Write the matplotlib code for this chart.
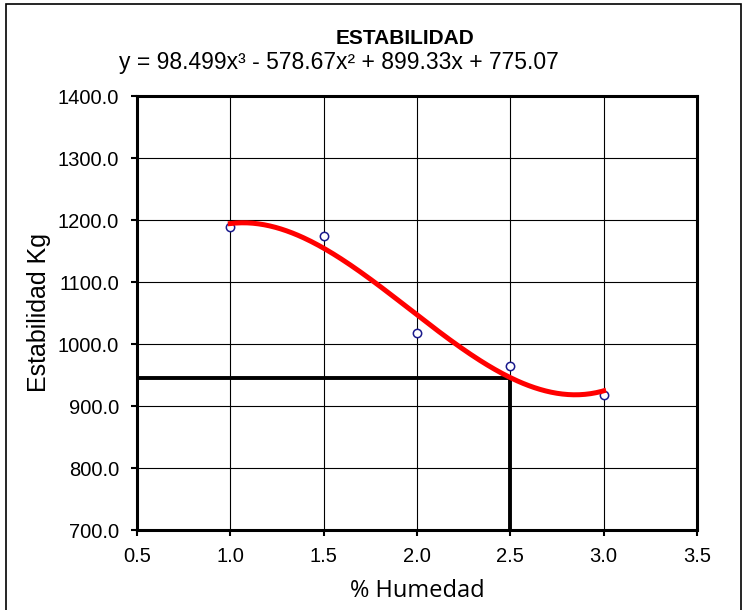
import numpy as np
import matplotlib
matplotlib.use("Agg")
import matplotlib.pyplot as plt
from matplotlib.patches import Rectangle

# datos de ensayo
humedad = [1.0, 1.5, 2.0, 2.5, 3.0]
estabilidad = [1189, 1174, 1018, 964, 917]

# linea de tendencia (polinomio grado 3, del rotulo)
coef = [98.499, -578.67, 899.33, 775.07]
hum_diseno = 2.5

x_ticks = [0.5, 1.0, 1.5, 2.0, 2.5, 3.0, 3.5]
y_ticks = [700, 800, 900, 1000, 1100, 1200, 1300, 1400]

plt.rcParams['font.family'] = ['Liberation Sans', 'DejaVu Sans']

fig = plt.figure(figsize=(7.49, 6.10), dpi=100)
ax = fig.add_axes([137 / 749, 1 - 530 / 610, 560 / 749, 434 / 610])

# borde del area del grafico
fig.patches.append(Rectangle((6 / 749, -0.05), 735 / 749, 1.05 - 4 / 610,
                             transform=fig.transFigure, fill=False,
                             edgecolor='black', linewidth=1.2))

ax.set_xlim(0.5, 3.5)
ax.set_ylim(700, 1400)
ax.set_xticks(x_ticks)
ax.set_yticks(y_ticks)
ax.set_xticklabels([f"{t:.1f}" for t in x_ticks], fontsize=14.5)
ax.set_yticklabels([f"{t:.1f}" for t in y_ticks], fontsize=14.5)
ax.grid(True, color='black', linewidth=0.8)
ax.tick_params(direction='out', length=4.5, width=1.5)
ax.tick_params(axis='y', pad=8.5)
ax.tick_params(axis='x', pad=8)
for s in ax.spines.values():
    s.set_linewidth(2.2)

ax.plot(humedad, estabilidad, 'o', mfc='white', mec='#1a1a8c',
        ms=6, mew=1.1, zorder=3)

xs = np.linspace(1.0, 3.0, 200)
ax.plot(xs, np.polyval(coef, xs), color='red', lw=3.6, zorder=4)

# lineas de lectura para la humedad de diseno
y_d = np.polyval(coef, hum_diseno)
ax.plot([0.5, hum_diseno], [y_d, y_d], color='black', lw=2.8, zorder=3)
ax.plot([hum_diseno, hum_diseno], [700, y_d], color='black', lw=2.8, zorder=3)

ax.set_xlabel('% Humedad', fontsize=17, family=['Open Sans', 'DejaVu Sans'],
              labelpad=9)
ax.set_ylabel('Estabilidad Kg', fontsize=18, labelpad=5)

fig.text(405 / 749, 1 - 38 / 610, 'ESTABILIDAD', fontsize=15,
         fontweight='bold', ha='center', va='center')
fig.text(339 / 749, 1 - 63 / 610,
         'y = 98.499x³ - 578.67x² + 899.33x + 775.07',
         fontsize=16.5, ha='center', va='center')

fig.savefig('out.png', dpi=100)
